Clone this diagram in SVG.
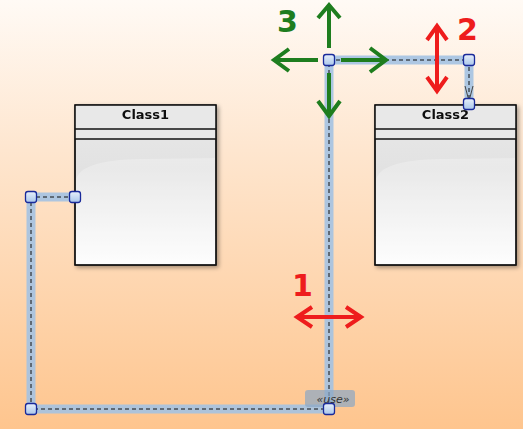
<svg xmlns="http://www.w3.org/2000/svg" width="523" height="429" viewBox="0 0 523 429">
<defs>
<linearGradient id="bg" x1="0" y1="0" x2="0" y2="1">
<stop offset="0" stop-color="#fffaf5"/>
<stop offset="0.35" stop-color="#fee6cf"/>
<stop offset="1" stop-color="#fec58e"/>
</linearGradient>
<linearGradient id="body" x1="0" y1="0" x2="0" y2="1">
<stop offset="0" stop-color="#e9e9e9"/>
<stop offset="0.4" stop-color="#e2e2e2"/>
<stop offset="1" stop-color="#fdfdfd"/>
</linearGradient>
<linearGradient id="hdl" x1="0" y1="0" x2="0" y2="1">
<stop offset="0" stop-color="#e8f0fb"/>
<stop offset="1" stop-color="#a9c6ea"/>
</linearGradient>
<filter id="sh" x="-10%" y="-10%" width="130%" height="130%">
<feGaussianBlur in="SourceAlpha" stdDeviation="2"/>
<feOffset dx="2" dy="2"/>
<feComponentTransfer><feFuncA type="linear" slope="0.35"/></feComponentTransfer>
<feMerge><feMergeNode/><feMergeNode in="SourceGraphic"/></feMerge>
</filter>
</defs>
<style>
.cls{fill:url(#body);stroke:#111;stroke-width:1.3}
.hdr{fill:#e8e8e8}
.ttl{font-family:"DejaVu Sans",Verdana,sans-serif;font-weight:bold;font-size:13px;text-anchor:middle;fill:#111}
.wide{fill:none;stroke:#a4c2e2;stroke-width:9;stroke-linejoin:miter;opacity:0.9}
.dash{fill:none;stroke:#111;stroke-width:1;stroke-dasharray:4,3}
.h{fill:url(#hdl);stroke:#1a2a9a;stroke-width:1.3}
.g{stroke:#1e7d1e;stroke-width:4;fill:none;stroke-linecap:butt;stroke-linejoin:miter}
.r{stroke:#ee1c1c;stroke-width:4;fill:none;stroke-linejoin:miter}
.num{font-family:"DejaVu Sans",Verdana,sans-serif;font-weight:bold;font-size:30px}
</style>
<rect width="523" height="429" fill="url(#bg)"/>

<g id="Class1" filter="url(#sh)">
<rect class="cls" x="75" y="105" width="141" height="160"/>
<rect class="hdr" x="75.6" y="105.6" width="139.8" height="33.4"/>
<path d="M76,180 Q80,160 140,159 L215,158 L215,264 L76,264 Z" fill="#ffffff" opacity="0.25"/>
<line x1="75" y1="129" x2="216" y2="129" stroke="#111" stroke-width="1.3"/>
<line x1="75" y1="139" x2="216" y2="139" stroke="#111" stroke-width="1.3"/>
<rect x="75" y="105" width="141" height="160" fill="none" stroke="#111" stroke-width="1.3"/>
<text class="ttl" x="145.5" y="119">Class1</text>
</g>

<g id="Class2" filter="url(#sh)">
<rect class="cls" x="375" y="105" width="141" height="160"/>
<rect class="hdr" x="375.6" y="105.6" width="139.8" height="33.4"/>
<path d="M376,180 Q380,160 440,159 L515,158 L515,264 L376,264 Z" fill="#ffffff" opacity="0.25"/>
<line x1="375" y1="129" x2="516" y2="129" stroke="#111" stroke-width="1.3"/>
<line x1="375" y1="139" x2="516" y2="139" stroke="#111" stroke-width="1.3"/>
<rect x="375" y="105" width="141" height="160" fill="none" stroke="#111" stroke-width="1.3"/>
<text class="ttl" x="445.5" y="119">Class2</text>
</g>

<g id="connectors">
<path class="wide" d="M75,197 H31 V409 H329 V60 H469 V104"/>
<path class="dash" d="M75,197 H31 V409 H329 V60 H469 V104"/>
<path d="M465,86 L469,101 L473,86" fill="none" stroke="#444" stroke-width="1"/>
<g id="label-use">
<rect x="305" y="390" width="50" height="17" rx="3" fill="#8aa6c4" opacity="0.7"/>
<text x="333" y="403" font-family="DejaVu Sans,sans-serif" font-style="italic" font-size="11" text-anchor="middle" fill="#333">«use»</text>
</g>
<rect class="h" x="25.5" y="191.5" width="11" height="11" rx="2.5"/>
<rect class="h" x="69.5" y="191.5" width="11" height="11" rx="2.5"/>
<rect class="h" x="25.5" y="403.5" width="11" height="11" rx="2.5"/>
<rect class="h" x="323.5" y="403.5" width="11" height="11" rx="2.5"/>
<rect class="h" x="323.5" y="54.5" width="11" height="11" rx="2.5"/>
<rect class="h" x="463.5" y="54.5" width="11" height="11" rx="2.5"/>
<rect class="h" x="463.5" y="98.5" width="11" height="11" rx="2.5"/>
</g>

<g id="annotations">
<path class="g" d="M329,48 V6 M318,18 L329,5 L340,18"/>
<path class="g" d="M318,60 H274 M289,49 L274,60 L289,71"/>
<path class="g" d="M341,60 H386 M370,48 L386,60 L370,72"/>
<path class="g" d="M329,73 V116 M318,101 L329,116 L340,101"/>
<text class="num" x="277" y="32" fill="#1e7d1e">3</text>
<path class="r" d="M437,27 V90 M427,40 L437,26 L447,40 M427,77 L437,91 L447,77"/>
<text class="num" x="457" y="40" fill="#ee1c1c">2</text>
<path class="r" d="M298,317 H360 M312,307 L297,317 L312,327 M346,307 L361,317 L346,327"/>
<text class="num" x="292" y="296" fill="#ee1c1c">1</text>
</g>
</svg>
